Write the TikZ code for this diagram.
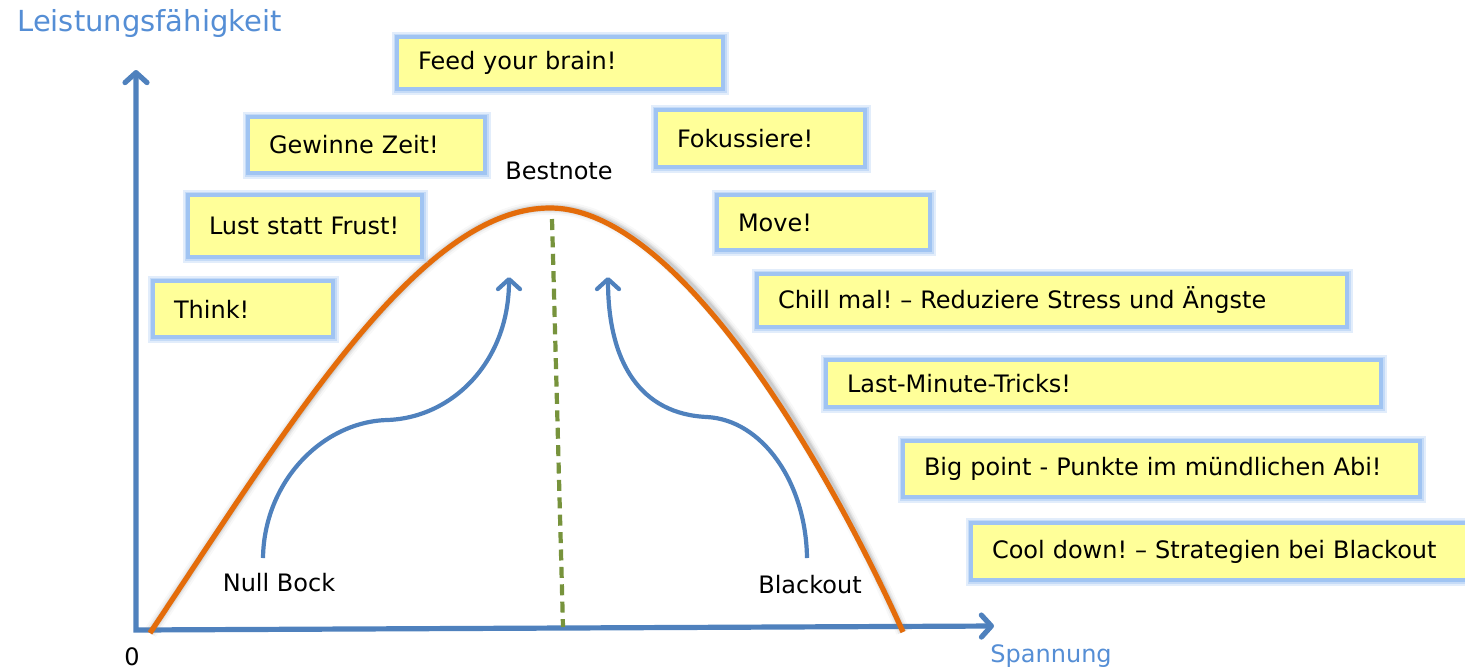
\documentclass[tikz,border=0pt]{standalone}
\usepackage{fontspec}
\setmainfont{DejaVu Sans}
\usetikzlibrary{arrows.meta}
\definecolor{axisblue}{RGB}{79,129,189}
\definecolor{labelblue}{RGB}{85,142,213}
\definecolor{curveorange}{RGB}{228,108,10}
\definecolor{dashgreen}{RGB}{119,147,60}
\definecolor{noteyellow}{RGB}{255,255,153}
\definecolor{glowblue}{RGB}{160,196,242}
\begin{document}
\frenchspacing
\begin{tikzpicture}[x=0.5pt,y=-0.5pt,
  box/.style={draw=glowblue, line width=1.6pt, fill=noteyellow,
    preaction={draw=glowblue, line width=5.5pt, draw opacity=0.3},
    preaction={draw=glowblue, line width=3.5pt, draw opacity=0.45},
    inner xsep=10.5pt, inner ysep=0pt, align=left, anchor=center,
    font=\fontsize{12}{14}\selectfont},
  lbl/.style={inner sep=0pt, font=\fontsize{12}{14}\selectfont},
  axislabel/.style={inner sep=0pt, text=labelblue},
  barb/.tip={Straight Barb[length=5pt, width=11pt, line cap=round, line join=round]},
  axisline/.style={draw=axisblue, line width=2.6pt},
  flow/.style={draw=axisblue, line width=2.1pt, -{barb}},
  bell/.style={draw=curveorange, line width=2.6pt},
  peakline/.style={draw=dashgreen, line width=2.1pt, dash pattern=on 5.5pt off 3.2pt},
]
\useasboundingbox (0,0) rectangle (1465,671);

% axes
\coordinate (ytop) at (136,70);
\coordinate (O) at (136,630);
\coordinate (xend) at (994,626);
\draw[axisline, line join=miter, {barb}-{barb}] (ytop) -- (O) -- (xend);

% bell curve with shadow
\coordinate (bl) at (150,633);
\coordinate (peak) at (550,208);
\coordinate (br) at (903,632);
\foreach \w/\o in {7/0.06,5/0.10,3.5/0.14,2.4/0.18}{
  \draw[gray, line width=\w pt, opacity=\o, shift={(4,-3)}]
    (bl) .. controls (290,423) and (420,208) .. (peak)
         .. controls (680,208) and (830,470) .. (br);
}
\draw[bell] (bl) .. controls (290,423) and (420,208) .. (peak)
                 .. controls (680,208) and (830,470) .. (br);

% peak line
\coordinate (ptop) at (552,219);
\coordinate (pbot) at (563,627);
\draw[peakline] (ptop) -- (pbot);

% curved arrows
\coordinate (lstart) at (263,558);
\coordinate (lmid) at (387,420);
\coordinate (ltip) at (509,277);
\draw[flow] (lstart) .. controls (264,482) and (322,422) .. (lmid)
                     .. controls (452,418) and (509,362) .. (ltip);
\coordinate (rstart) at (807,558);
\coordinate (rmid) at (707,417);
\coordinate (rtip) at (608,277);
\draw[flow] (rstart) .. controls (806,482) and (762,420) .. (rmid)
                     .. controls (640,414) and (608,362) .. (rtip);

% notes
\node[box, minimum width=163pt, minimum height=26pt, text width=142pt] (feed) at (560,63) {Feed your brain!};
\node[box, minimum width=118.5pt, minimum height=28pt, text width=97.5pt] (zeit) at (366.5,145) {Gewinne Zeit!};
\node[box, minimum width=104.5pt, minimum height=28.5pt, text width=83.5pt] (fokus) at (760.5,138.5) {Fokussiere!};
\node[box, minimum width=117pt, minimum height=31pt, text width=96pt] (lust) at (305,226) {Lust statt Frust!};
\node[box, minimum width=106.5pt, minimum height=27.5pt, text width=85.5pt] (move) at (823.5,222.5) {Move!};
\node[box, minimum width=90pt, minimum height=28pt, text width=69pt] (think) at (243,309) {Think!};
\node[box, minimum width=295pt, minimum height=26.5pt, text width=274pt] (chill) at (1052,300.5) {Chill mal! – Reduziere Stress und Ängste};
\node[box, minimum width=277.5pt, minimum height=23.5pt, text width=256.5pt] (last) at (1103.5,383.5) {Last-Minute-Tricks!};
\node[box, minimum width=258.5pt, minimum height=28pt, text width=237.5pt] (big) at (1161.5,469) {\mbox{Big point - Punkte im mündlichen Abi!}};
\node[box, minimum width=260pt, minimum height=28.5pt, text width=239pt] (cool) at (1231,551.5) {\mbox{Cool down! – Strategien bei Blackout}};

% labels
\node[lbl] (bestnote) at (559,171) {Bestnote};
\node[lbl] (nullbock) at (279,583) {Null Bock};
\node[lbl] (blackout) at (810,585) {Blackout};
\node[lbl] (zero) at (132,657) {0};
\node[axislabel, anchor=west, font=\fontsize{12}{14}\selectfont] (span) at (990,656) {Spannung};
\node[axislabel, anchor=west, font=\fontsize{14.5}{17}\selectfont] (leist) at (17,23) {Leistungsfähigkeit};
\end{tikzpicture}
\end{document}
